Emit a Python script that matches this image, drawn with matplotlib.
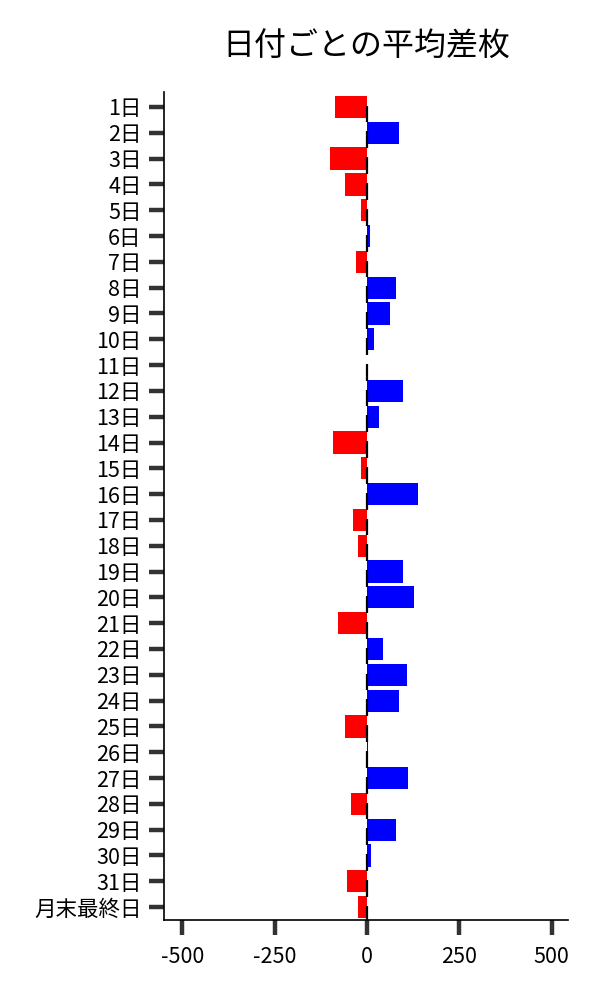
import matplotlib
matplotlib.use("Agg")
import matplotlib.pyplot as plt
import numpy as np

plt.rcParams['font.family'] = ['Noto Sans CJK JP', 'DejaVu Sans']

days = [f"{i}日" for i in range(1, 32)] + ["月末最終日"]
values = [-87, 86, -100, -60, -16, 7, -30, 78, 62, 19, 0, 97, 32, -92, -16, 137,
          -38, -24, 97, 127, -79, 43, 108, 87, -60, 3, 111, -43, 78, 10, -53, -25]
xticks = [-500, -250, 0, 250, 500]

fig = plt.figure(figsize=(6, 10), dpi=100)
ax = fig.add_axes([0.273, 0.08, 0.674, 0.828])

y = np.arange(len(days))
colors = ['#0000ff' if v >= 0 else '#ff0000' for v in values]
ax.barh(y, values, height=0.86, color=colors, zorder=2)
ax.vlines(np.zeros(len(days)), y - 0.05, y + 0.6, color='black', linewidth=1.6, zorder=3)

ax.set_yticks(y)
ax.set_yticklabels(days, fontsize=15.5)
ax.set_ylim(len(days) - 0.5, -0.58)
ax.set_xlim(-550, 545)
ax.set_xticks(xticks)
ax.set_xticklabels([str(t) for t in xticks], fontsize=15.5)

for s in ['top', 'right']:
    ax.spines[s].set_visible(False)
ax.spines['left'].set_linewidth(1.2)
ax.spines['bottom'].set_linewidth(1.2)
ax.tick_params(axis='both', length=11, width=3.2, color='#333333')
ax.tick_params(axis='y', pad=5)
ax.tick_params(axis='x', pad=8)

ax.set_title("日付ごとの平均差枚", fontsize=23, pad=26)

fig.savefig("out.png", dpi=100)
